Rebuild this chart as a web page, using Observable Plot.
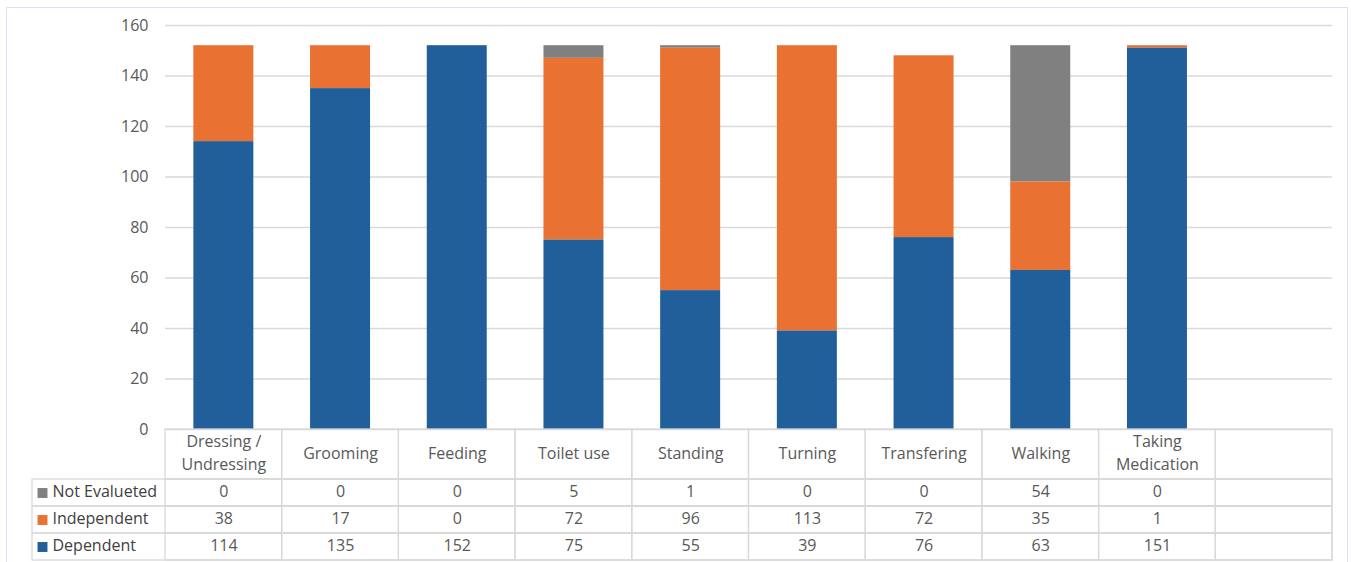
<!DOCTYPE html>
<html><head><meta charset="utf-8">
<script src="https://cdn.jsdelivr.net/npm/d3@7"></script>
<script src="https://cdn.jsdelivr.net/npm/@observablehq/plot@0.6"></script>
<style>
body{margin:0;background:#fff;font-family:"Open Sans",sans-serif;}
#wrap{position:relative;width:1351px;height:562px;overflow:hidden;background:#fff}
#border{position:absolute;left:6px;top:7px;width:1342px;height:580px;border:1px solid #dae3f3;box-sizing:border-box}
#wrap svg{position:absolute;left:0;overflow:visible}
</style></head><body><div id="wrap"><div id="border"></div></div>
<script>
const categories = ["Dressing / Undressing","Grooming","Feeding","Toilet use","Standing","Turning","Transfering","Walking","Taking Medication"];
const series = ["Not Evalueted","Independent","Dependent"];
const notEvaluated = [0,0,0,5,1,0,0,54,0];
const independent = [38,17,0,72,96,113,72,35,1];
const dependent = [114,135,152,75,55,39,76,63,151];
const yTicks = [0,20,40,60,80,100,120,140,160];
const colors = ["#808080","#e97132","#215f9a"];

const valuesBySeries = {"Not Evalueted": notEvaluated, "Independent": independent, "Dependent": dependent};
const long = [];
for (const s of series) categories.forEach((c, i) => long.push({cat: c, series: s, value: valuesBySeries[s][i]}));
const xDomain = [...categories, ""];
const font = "'Open Sans', sans-serif";
const FS = 16;
const W = 1351, ML = 165, MR = 19;
const wrap = document.getElementById("wrap");

const chart = Plot.plot({
  width: W, height: 440, marginTop: 25, marginBottom: 11, marginLeft: ML, marginRight: MR,
  style: {fontFamily: font, fontSize: FS + "px", background: "transparent"},
  x: {domain: xDomain, paddingInner: 0.486, paddingOuter: 0.243, round: false, axis: null},
  y: {domain: [0, 160], axis: null},
  color: {domain: series, range: colors},
  marks: [
    Plot.gridY(yTicks, {stroke: "#d9d9d9", strokeOpacity: 1, strokeWidth: 1.3}),
    Plot.axisY(yTicks, {tickSize: 0, tickPadding: 17, fill: "#595959", fontSize: FS, label: null}),
    Plot.barY(long, {x: "cat", y: "value", fill: "series", order: ["Dependent", "Independent", "Not Evalueted"]})
  ]
});
chart.style.top = "0px";
wrap.appendChild(chart);

const header = Plot.plot({
  width: W, height: 51, marginTop: 0, marginBottom: 1, marginLeft: ML, marginRight: MR,
  style: {fontFamily: font, fontSize: FS + "px", background: "transparent"},
  x: {domain: xDomain, padding: 0, round: false, axis: null},
  marks: [
    Plot.cell(xDomain, {x: d => d, fill: "none", stroke: "#d9d9d9", strokeWidth: 1.3}),
    Plot.text(categories, {x: d => d, text: d => d, lineWidth: 7, lineHeight: 1.4, dy: -3, fill: "#595959", fontSize: FS})
  ]
});
header.style.top = "429px";
wrap.appendChild(header);

const cells = [];
for (const s of series) xDomain.forEach((c, i) => cells.push({cat: c, series: s, value: i < categories.length ? valuesBySeries[s][i] : null}));

const table = Plot.plot({
  width: W, height: 82, marginTop: 0, marginBottom: 1, marginLeft: 32, marginRight: MR,
  style: {fontFamily: font, fontSize: FS + "px", background: "transparent"},
  x: {domain: xDomain, range: [ML, W - MR], padding: 0, round: false, axis: null},
  y: {domain: series, padding: 0, round: false, axis: null},
  color: {domain: series, range: colors},
  marks: [
    Plot.cell(series, {y: d => d, fill: "none", stroke: "#d9d9d9", strokeWidth: 1.3}),
    Plot.cell(cells, {x: "cat", y: "series", fill: "none", stroke: "#d9d9d9", strokeWidth: 1.3}),
    Plot.text(cells.filter(d => d.value != null), {x: "cat", y: "series", text: d => String(d.value), dy: -1, fill: "#595959", fontSize: FS}),
    Plot.dot(series, {y: d => d, frameAnchor: "left", dx: 10, symbol: "square", r: 5.6, fill: d => d, stroke: null}),
    Plot.text(series, {y: d => d, frameAnchor: "left", dx: 20, text: d => d, dy: -1, fill: "#404040", fontSize: FS})
  ]
});
table.style.top = "479px";
wrap.appendChild(table);
</script></body></html>
